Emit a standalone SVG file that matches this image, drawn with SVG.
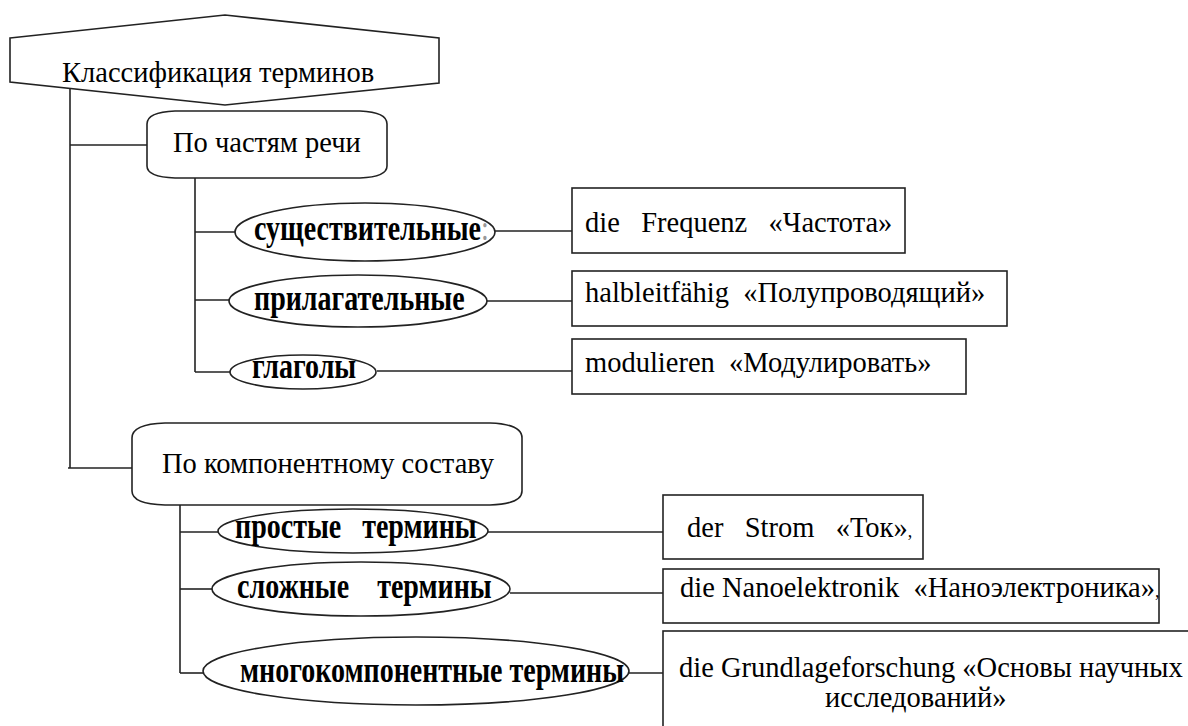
<svg xmlns="http://www.w3.org/2000/svg" width="1188" height="726" viewBox="0 0 1188 726">
<style>
.s{fill:#fff;stroke:#222;stroke-width:1.6}
.c{fill:none;stroke:#222;stroke-width:1.6}
.t{font-family:'Liberation Serif','DejaVu Serif',serif;font-size:28.5px;fill:#000}
.b{font-family:'Liberation Serif','DejaVu Serif',serif;font-size:28px;font-weight:bold;fill:#000}
.f{fill:#999}
</style>
<rect width="1188" height="726" fill="#fff"/>
<g id="connectors">
<polyline class="c" points="70,88 70,468"/>
<line class="c" x1="70" y1="145" x2="147" y2="145"/>
<line class="c" x1="68" y1="468" x2="132" y2="468"/>
<line class="c" x1="195" y1="178" x2="195" y2="372"/>
<line class="c" x1="195" y1="232" x2="235" y2="232"/>
<line class="c" x1="195" y1="300" x2="229" y2="300"/>
<line class="c" x1="195" y1="372" x2="230" y2="372"/>
<line class="c" x1="495" y1="231" x2="572" y2="231"/>
<line class="c" x1="487" y1="301" x2="572" y2="301"/>
<line class="c" x1="377" y1="371" x2="572" y2="371"/>
<line class="c" x1="180" y1="505" x2="180" y2="673"/>
<line class="c" x1="180" y1="532" x2="219" y2="532"/>
<line class="c" x1="180" y1="589" x2="212" y2="589"/>
<line class="c" x1="180" y1="673" x2="203" y2="673"/>
<line class="c" x1="488" y1="532" x2="663" y2="532"/>
<line class="c" x1="510" y1="593" x2="663" y2="593"/>
<line class="c" x1="628" y1="673" x2="663" y2="673"/>
</g>
<g id="root">
<path class="s" d="M10,38 L225,15 L439,38 L439,83 L225,105 L10,82 Z"/>
<text class="t" x="62" y="82">Классификация терминов</text>
</g>
<g id="pos">
<path class="s" d="M147,124 Q147,112 175,111 L360,111 Q387,112 387,124 L387,166 Q387,177 360,178 L175,178 Q147,177 147,166 Z"/>
<text class="t" x="173" y="152">По частям речи</text>
</g>
<g id="comp">
<path class="s" d="M132,438 Q132,424 165,423 L490,423 Q522,424 522,438 L522,491 Q522,504 490,505 L165,505 Q132,504 132,491 Z"/>
<text class="t" x="162" y="473">По компонентному составу</text>
</g>
<g id="noun">
<ellipse class="s" cx="365" cy="232" rx="130" ry="29"/>
<text class="b" transform="translate(254,240) scale(1,1.3)">существительные<tspan class="f" font-weight="normal">:</tspan></text>
</g>
<g id="adj">
<ellipse class="s" cx="358" cy="301" rx="129" ry="26"/>
<text class="b" transform="translate(254,310) scale(1,1.3)">прилагательные</text>
</g>
<g id="verb">
<ellipse class="s" cx="303" cy="372" rx="73" ry="17"/>
<text class="b" transform="translate(252,378) scale(1,1.3)">глаголы</text>
</g>
<g id="simple">
<ellipse class="s" cx="353" cy="531" rx="135" ry="22"/>
<text class="b" transform="translate(235,538) scale(1,1.3)" xml:space="preserve">простые   термины</text>
</g>
<g id="complex">
<ellipse class="s" cx="361" cy="589" rx="149" ry="27"/>
<text class="b" transform="translate(237,598) scale(1,1.3)" xml:space="preserve">сложные    термины</text>
</g>
<g id="multi">
<ellipse class="s" cx="416" cy="671" rx="213" ry="34"/>
<text class="b" transform="translate(240,682) scale(1,1.3)">многокомпонентные термины</text>
</g>
<g id="ex1">
<rect class="s" x="572" y="188" width="333" height="65"/>
<text class="t" x="585" y="232" xml:space="preserve">die   Frequenz   «Частота»</text>
</g>
<g id="ex2">
<rect class="s" x="572" y="271" width="435" height="55"/>
<text class="t" x="585" y="302" xml:space="preserve">halbleitfähig  «Полупроводящий»</text>
</g>
<g id="ex3">
<rect class="s" x="572" y="339" width="394" height="55"/>
<text class="t" x="585" y="372" xml:space="preserve">modulieren  «Модулировать»</text>
</g>
<g id="ex4">
<rect class="s" x="663" y="495" width="260" height="64"/>
<text class="t" x="687" y="537" xml:space="preserve">der   Strom   «Ток»<tspan font-size="18">,</tspan></text>
</g>
<g id="ex5">
<rect class="s" x="663" y="569" width="496" height="54"/>
<text class="t" x="680" y="597" xml:space="preserve">die Nanoelektronik  «Наноэлектроника»<tspan font-size="18">,</tspan></text>
</g>
<g id="ex6">
<rect class="s" x="663" y="631" width="600" height="120"/>
<text class="t" x="679" y="677">die Grundlageforschung «Основы научных</text>
<text class="t" x="825" y="707">исследований»</text>
</g>
</svg>
